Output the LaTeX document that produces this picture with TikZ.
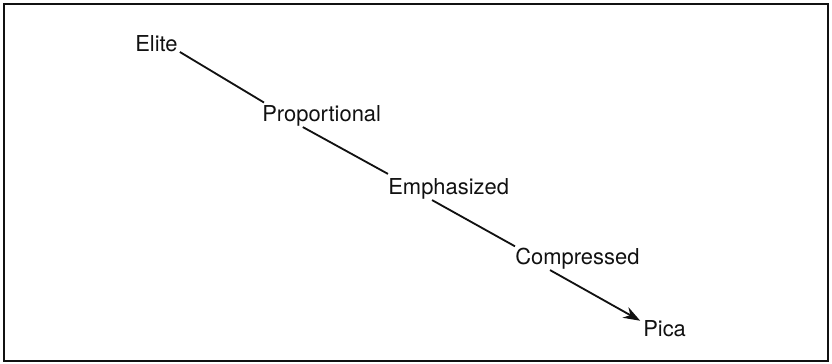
\documentclass[tikz,border=0pt]{standalone}
\usepackage{fontspec}
\setmainfont{TeX Gyre Heros}
\usetikzlibrary{arrows.meta, positioning, calc}

\begin{document}
\begin{tikzpicture}[
    every node/.style={font=\fontsize{15.6}{18}\selectfont},
]

\definecolor{ink}{HTML}{111111}

% ================================================================
%  one unit = 40px of the 832 x 364 reference, y measured upward
%  labels sit on their baselines, a slanted rule runs down the chain
% ================================================================

\tikzset{
  mode/.style={inner sep=0pt, anchor=base west, text=ink},
  link/.style={draw=ink, line width=1.3pt},
  frame/.style={draw=ink, line width=1.5pt},
}

\useasboundingbox (0, 0) rectangle (20.8, 9.1);

% ---------------------------------------------------------------- frame
\draw[frame] (0.1, 0.08) rectangle (20.7, 9.0);

% ---------------------------------------------------------------- labels
\node[mode] (elite) at (3.375, 7.8)   {Elite};
\node[mode] (prop)  at (6.55, 6.05)   {Proportional};
\node[mode] (emph)  at (9.7, 4.225)   {Emphasized};
\node[mode] (comp)  at (12.875, 2.475) {Compressed};
\node[mode] (pica)  at (16.075, 0.675) {Pica};

% ---------------------------------------------------------------- links
\draw[link] ($(elite.base east)+(0.05, 0)$) -- ($(prop.north west)+(0.05, 0.08)$);
\draw[link] ($(prop.south west)+(1.02, 0)$) -- ($(emph.north west)+(0, 0.12)$);
\draw[link] ($(emph.south west)+(1.1, 0)$) -- ($(comp.north west)+(0, 0.05)$);
\draw[link, -{Stealth[length=0.42cm, width=0.3cm]}]
    ($(comp.south west)+(0.875, 0)$) -- ($(pica.north west)+(-0.07, 0)$);

\end{tikzpicture}
\end{document}
